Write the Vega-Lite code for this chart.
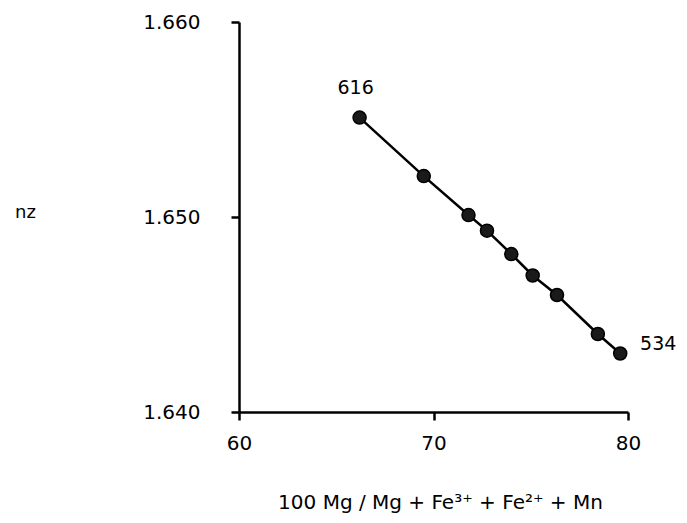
{
  "$schema": "https://vega.github.io/schema/vega-lite/v6.json",
  "autosize": "none",
  "width": 389,
  "height": 390,
  "padding": {"left": 239, "top": 22, "right": 59, "bottom": 111},
  "background": "white",
  "config": {
    "view": {"stroke": null},
    "font": "DejaVu Sans",
    "axis": {
      "grid": false,
      "domainColor": "black",
      "domainWidth": 2.5,
      "tickColor": "black",
      "tickWidth": 2.5,
      "tickSize": 8,
      "labelColor": "black",
      "labelFont": "DejaVu Sans",
      "labelFontSize": 20,
      "titleColor": "black",
      "titleFont": "DejaVu Sans",
      "titleFontWeight": "normal"
    }
  },
  "data": {
    "values": [
      {"mgNumber": 66.2, "nz": 1.6551, "sample": "616"},
      {"mgNumber": 69.5, "nz": 1.6521, "sample": ""},
      {"mgNumber": 71.8, "nz": 1.6501, "sample": ""},
      {"mgNumber": 72.75, "nz": 1.6493, "sample": ""},
      {"mgNumber": 74.0, "nz": 1.6481, "sample": ""},
      {"mgNumber": 75.1, "nz": 1.647, "sample": ""},
      {"mgNumber": 76.35, "nz": 1.646, "sample": ""},
      {"mgNumber": 78.45, "nz": 1.644, "sample": ""},
      {"mgNumber": 79.6, "nz": 1.643, "sample": "534"}
    ]
  },
  "encoding": {
    "x": {
      "field": "mgNumber",
      "type": "quantitative",
      "scale": {"domain": [60, 80], "nice": false, "zero": false},
      "axis": {
        "values": [60, 70, 80],
        "labelPadding": 13,
        "labelFlush": false,
        "title": "100 Mg / Mg + Fe³⁺ + Fe²⁺ + Mn",
        "titleFontSize": 20,
        "titleX": 201,
        "titleY": 90,
        "titleAlign": "center",
        "titleBaseline": "middle"
      }
    },
    "y": {
      "field": "nz",
      "type": "quantitative",
      "scale": {"domain": [1.64, 1.66], "nice": false, "zero": false},
      "axis": {
        "values": [1.64, 1.65, 1.66],
        "format": ".3f",
        "labelPadding": 31,
        "labelFlush": false,
        "title": "nz",
        "titleFontSize": 18,
        "titleAngle": 0,
        "titleX": -214,
        "titleY": 190,
        "titleAlign": "center",
        "titleBaseline": "middle"
      }
    }
  },
  "layer": [
    {"mark": {"type": "line", "color": "black", "strokeWidth": 2.5}},
    {"mark": {"type": "point", "filled": true, "color": "#1a1a1a", "stroke": "black", "strokeWidth": 1.5, "size": 170, "opacity": 1}},
    {
      "transform": [{"filter": "datum.sample == '616'"}],
      "mark": {"type": "text", "fontSize": 19, "dx": -4, "dy": -30, "align": "center", "baseline": "middle", "color": "black", "font": "DejaVu Sans"},
      "encoding": {"text": {"field": "sample"}}
    },
    {
      "transform": [{"filter": "datum.sample == '534'"}],
      "mark": {"type": "text", "fontSize": 19, "dx": 38, "dy": -10, "align": "center", "baseline": "middle", "color": "black", "font": "DejaVu Sans"},
      "encoding": {"text": {"field": "sample"}}
    }
  ]
}
